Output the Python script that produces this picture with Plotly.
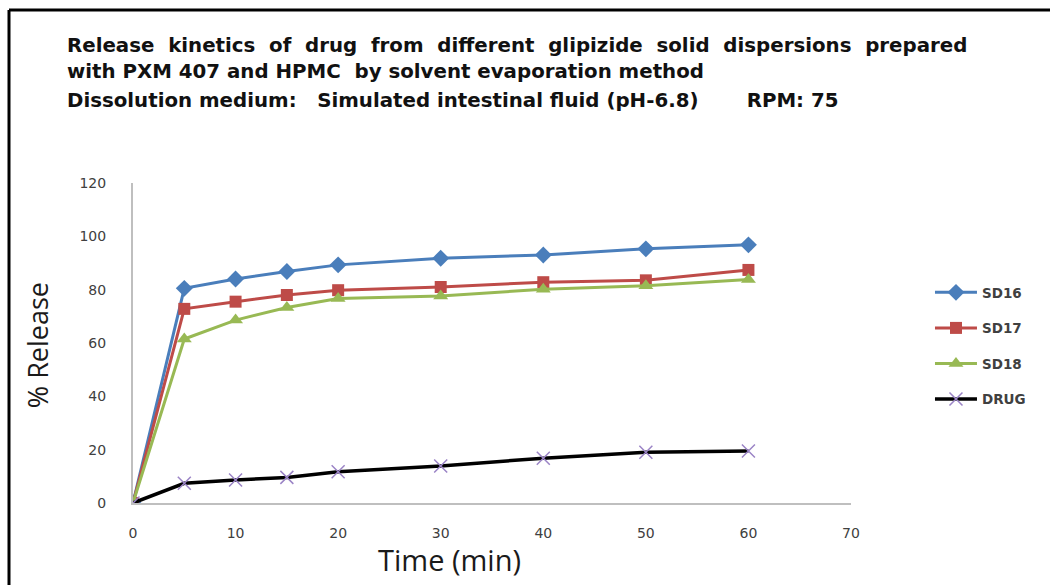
import plotly.graph_objects as go

time_min = [0, 5, 10, 15, 20, 30, 40, 50, 60]
sd16 = [0, 80.5, 84.0, 86.8, 89.3, 91.8, 93.0, 95.3, 96.8]
sd17 = [0, 72.8, 75.5, 78.0, 79.8, 81.0, 82.8, 83.5, 87.4]
sd18 = [0, 61.5, 68.6, 73.3, 76.7, 77.6, 80.2, 81.5, 83.8]
drug = [0, 7.4, 8.6, 9.6, 11.7, 13.9, 16.8, 19.0, 19.5]

x_ticks = [0, 10, 20, 30, 40, 50, 60, 70]
y_ticks = [0, 20, 40, 60, 80, 100, 120]

title_lines = [
    "Release\u00a0 kinetics\u00a0 of\u00a0 drug\u00a0 from\u00a0 different\u00a0 glipizide\u00a0 solid\u00a0 dispersions\u00a0 prepared",
    "with PXM 407 and HPMC\u00a0 by solvent evaporation method",
    "Dissolution medium:\u00a0\u00a0 Simulated intestinal fluid (pH-6.8)\u00a0\u00a0\u00a0\u00a0\u00a0\u00a0 RPM: 75",
]

fig = go.Figure()
fig.add_trace(go.Scatter(x=time_min, y=sd16, name="SD16", mode="lines+markers", legendgroup="a",
                         line=dict(color="#4A7EBB", width=3),
                         marker=dict(symbol="diamond", size=13, color="#4A7EBB")))
fig.add_trace(go.Scatter(x=time_min, y=sd17, name="SD17", mode="lines+markers", legendgroup="b",
                         line=dict(color="#BE4B48", width=3),
                         marker=dict(symbol="square", size=12, color="#BE4B48")))
fig.add_trace(go.Scatter(x=time_min, y=sd18, name="SD18", mode="lines+markers", legendgroup="c",
                         line=dict(color="#98B954", width=3),
                         marker=dict(symbol="triangle-up", size=13, color="#98B954")))
fig.add_trace(go.Scatter(x=time_min, y=drug, name="DRUG", mode="lines+markers", legendgroup="d",
                         line=dict(color="#000000", width=3.5),
                         marker=dict(symbol="x-thin", size=13, color="#9B84C6",
                                     line=dict(color="#9B84C6", width=1.5))))

fig.update_layout(
    width=1050, height=585,
    margin=dict(l=133, r=199, t=183, b=82),
    paper_bgcolor="white", plot_bgcolor="white",
    showlegend=True,
    legend=dict(x=1.11, y=0.706, xanchor="left", yanchor="top",
                font=dict(family="DejaVu Sans", size=13.5, color="#404040", weight="bold"),
                itemwidth=42, traceorder="grouped", tracegroupgap=15,
                bgcolor="rgba(0,0,0,0)"),
    font=dict(family="DejaVu Sans"),
)
fig.update_xaxes(range=[0, 70], tickvals=x_ticks, showgrid=False, zeroline=False,
                 showline=True, linecolor="#BFBFBF", linewidth=2,
                 tickfont=dict(family="DejaVu Sans", size=14, color="#404040"),
                 ticklabelstandoff=16)
fig.update_yaxes(range=[0, 120], tickvals=y_ticks, showgrid=False, zeroline=False,
                 showline=True, linecolor="#BFBFBF", linewidth=2,
                 tickfont=dict(family="DejaVu Sans", size=14, color="#404040"),
                 ticklabelstandoff=22)

# Axis titles
fig.add_annotation(text="Time (min)", xref="paper", yref="paper", x=0.4415, y=-0.178,
                   xanchor="center", yanchor="middle", showarrow=False,
                   font=dict(family="Open Sans", size=29, color="#1a1a1a"))
fig.add_annotation(text="% Release", xref="paper", yref="paper", x=-0.132, y=0.494,
                   xanchor="center", yanchor="middle", showarrow=False, textangle=-90,
                   font=dict(family="Open Sans", size=27, color="#1a1a1a"))

# Title lines
for line, ypos in zip(title_lines, [1.431, 1.347, 1.259]):
    fig.add_annotation(text="<b>" + line + "</b>", xref="paper", yref="paper",
                       x=-0.0947, y=ypos, xanchor="left", yanchor="middle",
                       showarrow=False,
                       font=dict(family="DejaVu Sans", size=19.8, color="#111111"))

# Frame lines (left and top)
fig.add_shape(type="line", xref="paper", yref="paper", x0=-0.1727, x1=-0.1727,
              y0=1.5406, y1=-0.26, line=dict(color="black", width=3))
fig.add_shape(type="line", xref="paper", yref="paper", x0=-0.1727, x1=1.28,
              y0=1.5406, y1=1.5406, line=dict(color="black", width=3))

fig.write_html("out.html")
